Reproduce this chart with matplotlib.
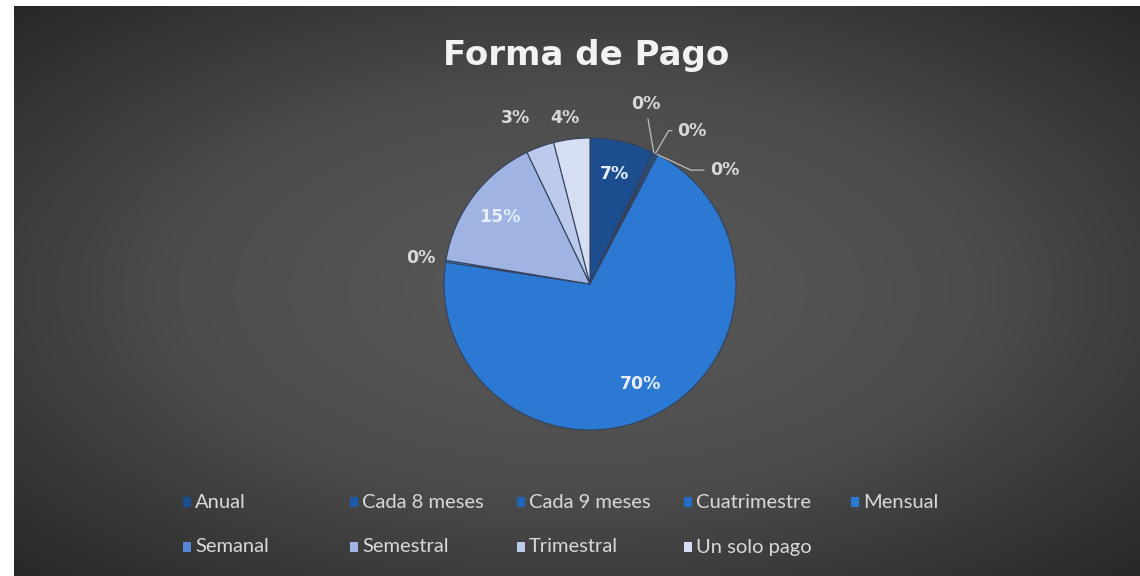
import numpy as np
import matplotlib.pyplot as plt
from matplotlib.colors import LinearSegmentedColormap
from matplotlib.patches import Rectangle

# Datos (porcentaje)
labels = ['Anual', 'Cada 8 meses', 'Cada 9 meses', 'Cuatrimestre', 'Mensual',
          'Semanal', 'Semestral', 'Trimestral', 'Un solo pago']
values = [7.1, 0.2, 0.2, 0.2, 69.7, 0.2, 15.3, 3.1, 4.0]
colors = ['#1c4d8f', '#1e5aa8', '#2163b6', '#256dc4', '#2c79d4',
          '#5587d6', '#9fb4e2', '#bccbec', '#d5def3']

W, H = 1140, 576
fig = plt.figure(figsize=(W / 100, H / 100), dpi=100, facecolor='white')

# fondo con degradado radial
bg = fig.add_axes([14 / W, 0, 1 - 14 / W, 1 - 6 / H])
yy, xx = np.mgrid[-1:1:300j, -1:1:600j]
dist = np.sqrt(xx ** 2 + yy ** 2) / np.sqrt(2)
cmap = LinearSegmentedColormap.from_list('bg', ['#5a5a5a', '#4c4c4c', '#282828'])
bg.imshow(dist, cmap=cmap, aspect='auto', extent=(0, 1, 0, 1))
bg.axis('off')

fig.text(586 / W, 1 - 56 / H, 'Forma de Pago', ha='center', va='center',
         fontsize=24.5, fontweight='bold', color='#f2f2f2', family='DejaVu Sans')

# pie: centro (590, 284) px, radio 146 px
R = 146
half = 200
cx, cy = 590, 284
ax = fig.add_axes([(cx - half) / W, (H - cy - half) / H, 2 * half / W, 2 * half / H])

wedges, _ = ax.pie(values, colors=colors, startangle=90, counterclock=False,
                   wedgeprops=dict(edgecolor='#34425c', linewidth=0.8))
ax.set_xlim(-half / R, half / R)
ax.set_ylim(-half / R, half / R)
ax.axis('off')

# posiciones de etiquetas externas (coordenadas del eje)
outer_pos = {1: (0.38, 1.23), 2: (0.70, 1.05), 3: (0.92, 0.78),
             5: (-1.16, 0.18), 7: (-0.51, 1.14), 8: (-0.17, 1.14)}
leaders = {1: 'arc3', 2: 'angle,angleA=0,angleB=60,rad=0',
           3: 'angle,angleA=0,angleB=-25,rad=0'}

for i, (w, v) in enumerate(zip(wedges, values)):
    ang = np.deg2rad((w.theta1 + w.theta2) / 2)
    txt = f'{v:.0f}%'
    if i in outer_pos:
        if i in leaders:
            ax.annotate(txt, xy=(np.cos(ang), np.sin(ang)), xytext=outer_pos[i],
                        ha='center', va='center', fontsize=12.5, color='#d9d9d9',
                        fontweight='bold',
                        arrowprops=dict(arrowstyle='-', color='#bfbfbf', lw=0.9,
                                        shrinkA=2, shrinkB=0,
                                        connectionstyle=leaders[i]))
        else:
            ax.text(*outer_pos[i], txt, ha='center', va='center', fontsize=12.5,
                    color='#d9d9d9', fontweight='bold')
    else:
        ax.text(0.77 * np.cos(ang), 0.77 * np.sin(ang), txt, ha='center', va='center',
                fontsize=12.5, color='#e8eef9', fontweight='bold')

# leyenda en dos filas, cinco columnas
for i, (lab, col) in enumerate(zip(labels, colors)):
    row, c = divmod(i, 5)
    mx = 183 + 167 * c
    my = 502 + 45 * row
    fig.patches.append(Rectangle((mx / W, 1 - (my + 5) / H), 8 / W, 10 / H,
                                 transform=fig.transFigure, facecolor=col,
                                 edgecolor='none'))
    fig.text((mx + 12) / W, 1 - my / H, lab, ha='left', va='center',
             fontsize=14.5, color='#d9d9d9', family='Lato')

fig.savefig('out.png', dpi=100, facecolor=fig.get_facecolor())
